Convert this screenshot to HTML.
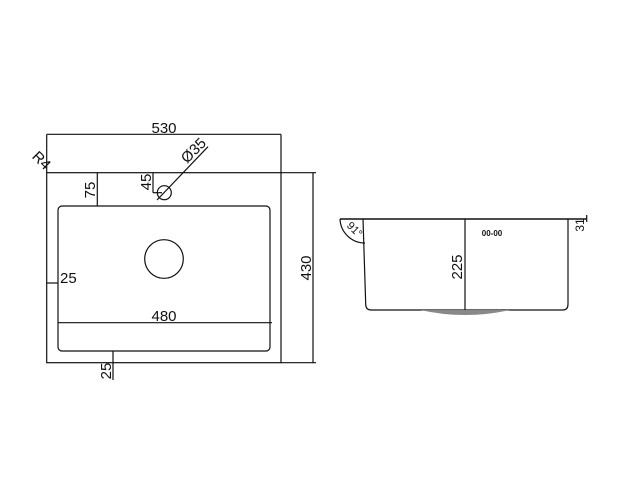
<!DOCTYPE html>
<html><head><style>html,body{margin:0;padding:0;background:#fff}svg{display:block}text{font-family:"Liberation Sans",sans-serif;font-size:15px;fill:#111}</style></head>
<body>
<svg width="617" height="504" viewBox="0 0 617 504" xmlns="http://www.w3.org/2000/svg">
<g stroke="#111" stroke-width="1.2" fill="none">
<!-- outer -->
<rect x="46.7" y="172.7" width="234.3" height="190"/>
<!-- top dim -->
<line x1="46.7" y1="134.3" x2="281" y2="134.3"/>
<line x1="46.7" y1="134.3" x2="46.7" y2="172.7"/>
<line x1="281" y1="134.3" x2="281" y2="172.7"/>
<!-- right dim -->
<line x1="313" y1="172.7" x2="313" y2="362.7"/>
<line x1="281" y1="172.7" x2="316" y2="172.7"/>
<line x1="281" y1="362.7" x2="316" y2="362.7"/>
<!-- inner -->
<rect x="58" y="206" width="212" height="145" rx="4"/>
<circle cx="164" cy="259" r="19.3"/>
<circle cx="164.3" cy="192.7" r="7"/>
<line x1="157" y1="200" x2="208" y2="146.7"/>
<!-- 45 dim -->
<line x1="153" y1="172.7" x2="153" y2="192.7"/>
<line x1="153" y1="192.7" x2="162" y2="192.7"/>
<!-- 75 -->
<line x1="97.3" y1="172.7" x2="97.3" y2="206"/>
<!-- 25 left -->
<line x1="46.7" y1="283" x2="58" y2="283"/>
<!-- 480 -->
<line x1="58" y1="322.7" x2="272" y2="322.7"/>
<!-- 25 bottom -->
<line x1="113" y1="351" x2="113" y2="380"/>
<!-- side view -->
<line x1="340" y1="219" x2="586.7" y2="219" stroke-width="1.5"/>
<line x1="586.7" y1="215" x2="586.7" y2="222"/>
<path d="M363 219 L365.7 304 Q365.7 310 371 310 L563 310 Q568 310 568 304 L568 219"/>
<line x1="465" y1="219" x2="465" y2="315"/>
<path d="M340 219 A25 25 0 0 0 365 243"/>
</g>
<path d="M420 310 Q465 320 510 310 Z" fill="#888"/>
<text x="164" y="133" text-anchor="middle">530</text>
<text transform="translate(311,268) rotate(-90)" text-anchor="middle">430</text>
<text transform="translate(38,164) rotate(45)" text-anchor="middle">R4</text>
<text transform="translate(197,154) rotate(-45)" text-anchor="middle">Ø35</text>
<text transform="translate(151,182) rotate(-90)" text-anchor="middle">45</text>
<text transform="translate(95,190) rotate(-90)" text-anchor="middle">75</text>
<text x="60" y="283">25</text>
<text x="164" y="321" text-anchor="middle">480</text>
<text transform="translate(111,371) rotate(-90)" text-anchor="middle">25</text>
<text transform="translate(462,267) rotate(-90)" text-anchor="middle">225</text>
<text x="492" y="236" text-anchor="middle" style="font-size:8px;font-weight:bold">00-00</text>
<text transform="translate(584,225) rotate(-90)" text-anchor="middle" style="font-size:12px">31</text>
<text transform="translate(352,232) rotate(45)" text-anchor="middle" style="font-size:11px">91°</text>
</svg>
</body></html>
